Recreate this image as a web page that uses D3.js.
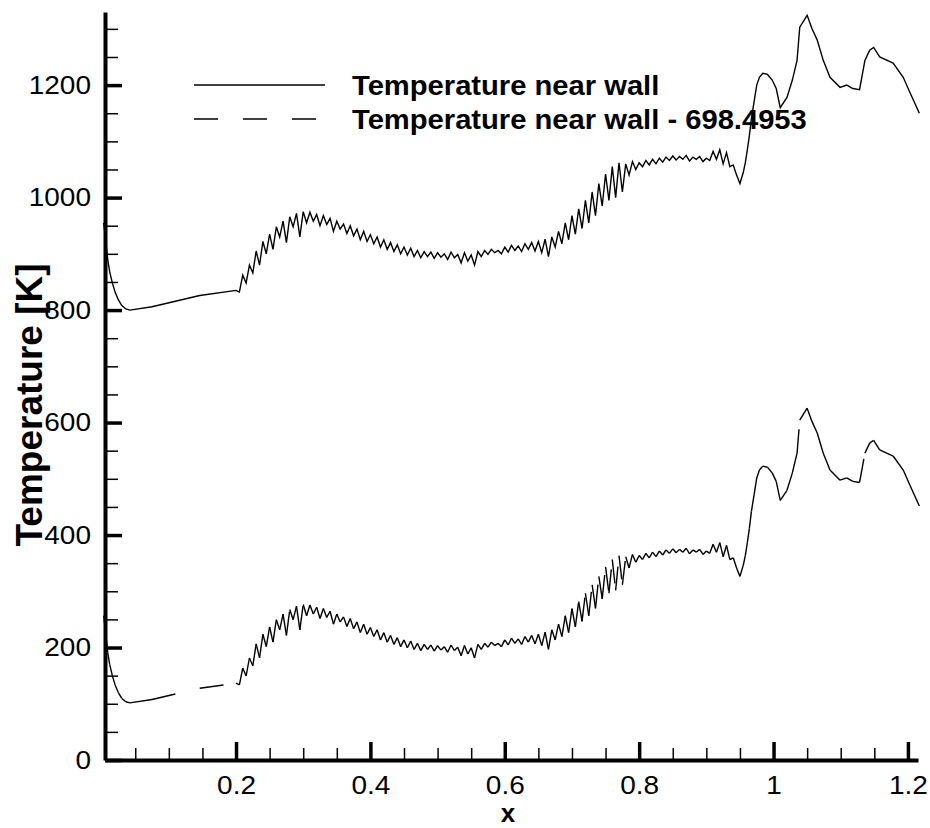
<!DOCTYPE html>
<html>
<head>
<meta charset="utf-8">
<script src="https://cdn.jsdelivr.net/npm/d3@7"></script>
<style>
  body { margin: 0; background: #fff; }
  text { font-family: "Liberation Sans", Arial, sans-serif; fill: #000; }
</style>
</head>
<body>
<div id="chart"></div>
<script>
// temperature near the wall along x, plus the same curve shifted down by a constant
const xPos = [
  0.003, 0.006, 0.009, 0.012, 0.016, 0.020, 0.025, 0.030, 0.036, 0.042, 0.075, 0.146,
  0.200, 0.205, 0.210, 0.215, 0.220, 0.225, 0.230, 0.235, 0.240, 0.245,
  0.250, 0.255, 0.260, 0.265, 0.270, 0.275, 0.280, 0.285, 0.290, 0.295,
  0.300, 0.305, 0.310, 0.315, 0.320, 0.325, 0.330, 0.335, 0.340, 0.345,
  0.350, 0.355, 0.360, 0.365, 0.370, 0.375, 0.380, 0.385, 0.390, 0.395,
  0.400, 0.405, 0.410, 0.415, 0.420, 0.425, 0.430, 0.435, 0.440, 0.445,
  0.450, 0.455, 0.460, 0.465, 0.470, 0.475, 0.480, 0.485, 0.490, 0.495,
  0.500, 0.505, 0.510, 0.515, 0.520, 0.525, 0.530, 0.535, 0.540, 0.545,
  0.550, 0.555, 0.560, 0.565, 0.570, 0.575, 0.580, 0.585, 0.590, 0.595,
  0.600, 0.605, 0.610, 0.615, 0.620, 0.625, 0.630, 0.635, 0.640, 0.645,
  0.650, 0.655, 0.660, 0.665, 0.670, 0.675, 0.680, 0.685, 0.690, 0.695,
  0.700, 0.705, 0.710, 0.715, 0.720, 0.725, 0.730, 0.735, 0.740, 0.745,
  0.750, 0.755, 0.760, 0.765, 0.770, 0.775, 0.780, 0.785, 0.790, 0.795,
  0.800, 0.805, 0.810, 0.815, 0.820, 0.825, 0.830, 0.835, 0.840, 0.845,
  0.850, 0.855, 0.860, 0.865, 0.870, 0.875, 0.880, 0.885, 0.890, 0.895,
  0.900, 0.905, 0.910, 0.915, 0.920, 0.925, 0.930, 0.935, 0.940, 0.945,
  0.950,
  0.955, 0.958, 0.961, 0.964, 0.967, 0.971, 0.975, 0.979, 0.984, 0.991,
  0.998, 1.004, 1.010, 1.020, 1.028, 1.035, 1.039, 1.050, 1.057, 1.065,
  1.074, 1.084, 1.099, 1.109, 1.118, 1.128, 1.136, 1.143, 1.149, 1.158,
  1.178, 1.193, 1.203, 1.217
];

const tempWall = [
  955, 925, 890, 868, 848, 832, 818, 808, 802, 800, 806, 826,
  835, 832, 862, 848, 880, 866, 905, 880, 922, 900,
  935, 908, 948, 930, 958, 920, 966, 948, 972, 930,
  975, 955, 974, 958, 970, 950, 968, 952, 963, 940,
  958, 944, 953, 936, 950, 932, 944, 925, 940, 922,
  934, 918, 930, 912, 925, 908, 920, 904, 916, 900,
  912, 898, 910, 895, 906, 893, 904, 895, 903, 892,
  902, 894, 900, 890, 903, 893, 899, 884, 902, 887,
  898, 880, 904, 895, 906, 899, 908, 902, 906, 900,
  912, 903, 915, 906, 914, 904, 918, 908, 920, 905,
  922, 902, 926, 895, 930, 912, 940, 918, 955, 925,
  968, 935, 980, 945, 995, 955, 1010, 968, 1025, 985,
  1042, 995, 1055, 1000, 1062, 1010, 1060, 1040, 1064, 1050,
  1062, 1055, 1066, 1058, 1068, 1060, 1070, 1063, 1072, 1066,
  1074, 1067, 1073, 1068, 1075, 1065, 1072, 1068, 1073, 1064,
  1070, 1066, 1082, 1068, 1085, 1060, 1080, 1055, 1058, 1040,
  1025,
  1045, 1062, 1085, 1110, 1140, 1170, 1200, 1214, 1221, 1219,
  1209, 1194, 1160, 1178, 1209, 1244, 1303, 1324, 1301, 1280,
  1244, 1214, 1196, 1200, 1194, 1192, 1244, 1262, 1267, 1250,
  1239, 1214, 1187, 1150
];

const shift = 698.4953;
const legendLabels = ["Temperature near wall", "Temperature near wall - 698.4953"];
const xTickValues = [0.2, 0.4, 0.6, 0.8, 1, 1.2];
const yTickValues = [0, 200, 400, 600, 800, 1000, 1200];

if (xPos.length !== tempWall.length) console.error("length mismatch", xPos.length, tempWall.length);

const width = 930, height = 828;

const svg = d3.select("#chart").append("svg")
  .attr("width", width)
  .attr("height", height);

const x = d3.scaleLinear().domain([0.005, 1.215]).range([105, 918]);
const y = d3.scaleLinear().domain([0, 1330]).range([760, 12]);

const pts = xPos.map((v, i) => ({ x: v, t: tempWall[i] }));
const shifted = pts.map(d => ({ x: d.x, t: d.t - shift }));

// solid curve
const line = d3.line().x(d => x(d.x)).y(d => y(d.t));
svg.append("path")
  .datum(pts)
  .attr("d", line)
  .attr("fill", "none")
  .attr("stroke", "#000")
  .attr("stroke-width", 1.4);

// dashed curve - pattern restarts on every segment (like the original plot)
svg.append("g")
  .selectAll("line")
  .data(d3.pairs(shifted))
  .join("line")
  .attr("x1", d => x(d[0].x))
  .attr("y1", d => y(d[0].t))
  .attr("x2", d => x(d[1].x))
  .attr("y2", d => y(d[1].t))
  .attr("stroke", "#000")
  .attr("stroke-width", 1.4)
  .attr("stroke-dasharray", "24,25");

// x axis: minor then major
svg.append("g")
  .attr("transform", `translate(0,${y(0)})`)
  .call(d3.axisBottom(x).tickValues(x.ticks(24)).tickSize(-12).tickSizeOuter(0).tickFormat(""))
  .call(g => g.select(".domain").remove())
  .call(g => g.selectAll(".tick line").attr("stroke", "#000").attr("stroke-width", 1.5));

const xAxis = svg.append("g")
  .attr("transform", `translate(0,${y(0)})`)
  .call(d3.axisBottom(x).tickValues(xTickValues).tickSize(-18).tickSizeOuter(0).tickPadding(16).tickFormat(d3.format("")));
xAxis.select(".domain").attr("stroke", "#000").attr("stroke-width", 4);
xAxis.selectAll(".tick line").attr("stroke", "#000").attr("stroke-width", 3.5);
xAxis.selectAll(".tick text")
  .attr("fill", "#000")
  .style("font-size", "25px")
  .attr("transform", "scale(1.12,1)");

// y axis: minor then major
svg.append("g")
  .attr("transform", `translate(${x(0.005)},0)`)
  .call(d3.axisLeft(y).tickValues(y.ticks(26)).tickSize(-13).tickSizeOuter(0).tickFormat(""))
  .call(g => g.select(".domain").remove())
  .call(g => g.selectAll(".tick line").attr("stroke", "#000").attr("stroke-width", 1.5));

const yAxis = svg.append("g")
  .attr("transform", `translate(${x(0.005)},0)`)
  .call(d3.axisLeft(y).tickValues(yTickValues).tickSize(-17).tickSizeOuter(0).tickPadding(12.5).tickFormat(d3.format("d")));
yAxis.select(".domain").attr("stroke", "#000").attr("stroke-width", 4);
yAxis.selectAll(".tick line").attr("stroke", "#000").attr("stroke-width", 3.5);
yAxis.selectAll(".tick text")
  .attr("fill", "#000")
  .style("font-size", "25px")
  .attr("transform", "scale(1.12,1)");

// axis titles
svg.append("text")
  .attr("transform", "translate(508,822)")
  .attr("text-anchor", "middle")
  .style("font-size", "26px")
  .style("font-weight", "bold")
  .text("x");

svg.append("text")
  .attr("transform", "translate(42,405) rotate(-90)")
  .attr("text-anchor", "middle")
  .style("font-size", "37px")
  .style("font-weight", "bold")
  .text("Temperature [K]");

// legend
const legend = svg.append("g");
const legendRows = [
  { label: legendLabels[0], ly: 85, dash: null, x2: 325 },
  { label: legendLabels[1], ly: 119, dash: "24,25", x2: 317 }
];
legendRows.forEach(r => {
  legend.append("line")
    .attr("x1", 194).attr("x2", r.x2)
    .attr("y1", r.ly).attr("y2", r.ly)
    .attr("stroke", "#000")
    .attr("stroke-width", 1.4)
    .attr("stroke-dasharray", r.dash);
  legend.append("text")
    .attr("transform", `translate(352,${r.ly + 9.5}) scale(1.08,1)`)
    .style("font-size", "27px")
    .style("font-weight", "bold")
    .text(r.label);
});
</script>
</body>
</html>
